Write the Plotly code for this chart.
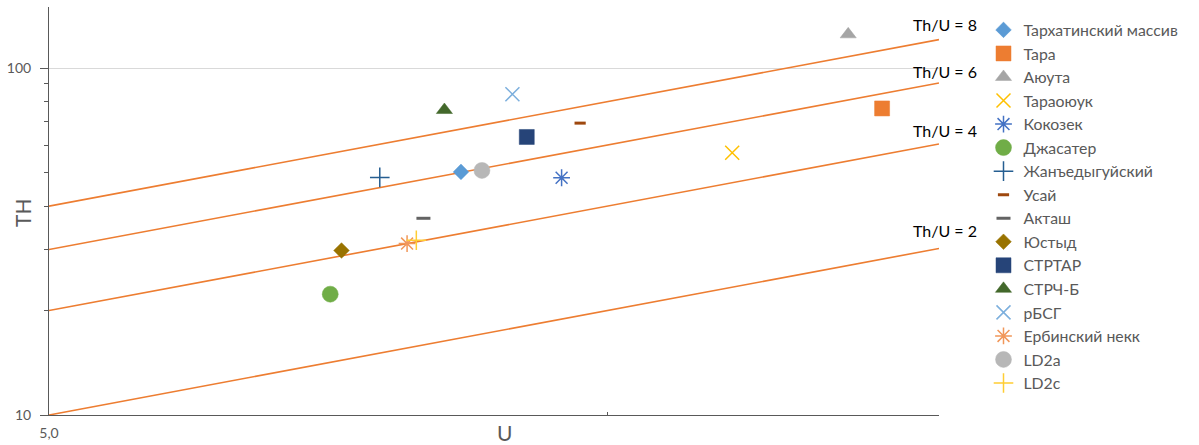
import plotly.graph_objects as go

# ---- data ----
series_names = ["Тархатинский массив", "Тара", "Аюута", "Тараоюук", "Кокозек", "Джасатер",
                "Жанъедыгуйский", "Усай", "Акташ", "Юстыд", "СТРТАР", "СТРЧ-Б", "рБСГ",
                "Ербинский некк", "LD2a", "LD2c"]
u_values = [8.34, 14.07, 13.49, 11.68, 9.45, 7.09, 7.54, 9.67, 7.96, 7.19, 9.05, 8.17, 8.89, 7.80, 8.56, 7.89]
th_values = [50.2, 76.5, 125.1, 57.0, 48.3, 22.3, 48.4, 69.4, 36.9, 29.8, 63.3, 75.7, 84.1, 31.2, 50.7, 31.9]
ratios = [8, 6, 4, 2]
ratio_u_span = [5.0, 15.1]
x_tick_vals = [5]
x_tick_text = ["5,0"]
y_tick_vals = [10, 100]
y_minor_vals = [20, 30, 40, 50, 60, 70, 80, 90]

# ---- styles ----
colors = ["#5B9BD5", "#ED7D31", "#A5A5A5", "#FFC000", "#4472C4", "#70AD47", "#255E91", "#9E480E",
          "#636363", "#997300", "#264478", "#43682B", "#7CAFDD", "#F1975A", "#B7B7B7", "#FFCD33"]
symbols = ["diamond", "square", "triangle-up", "x-thin-open", "asterisk-open", "circle",
           "cross-thin-open", "line-ew-open", "line-ew-open", "diamond", "square", "triangle-up",
           "x-thin-open", "asterisk-open", "circle", "cross-thin-open"]
sizes = [12, 15, 14, 14, 14, 16, 14, 8, 10, 12, 15, 14, 14, 14, 16, 14]
FONT = "Lato"
GRAY = "#595959"

fig = go.Figure()

for r in ratios:
    fig.add_trace(go.Scatter(
        x=ratio_u_span, y=[r * u for u in ratio_u_span], mode="lines",
        line=dict(color="#ED7D31", width=1.6), showlegend=False, hoverinfo="skip"))

for i, name in enumerate(series_names):
    sym = symbols[i]
    is_open = sym.endswith("-open")
    lw = 3 if sym.startswith("line-ew") else 1.5
    fig.add_trace(go.Scatter(
        x=[u_values[i]], y=[th_values[i]], mode="markers", name=name,
        marker=dict(symbol=sym, size=sizes[i], color=colors[i],
                    line=dict(color=colors[i], width=lw if is_open else 0.5)),
    ))

annotations = []
label_pos = {8: 0.956, 6: 0.841, 4: 0.697, 2: 0.452}
for r in ratios:
    annotations.append(dict(text=f"Th/U = {r}", xref="paper", yref="paper", x=1.007, y=label_pos[r],
                            showarrow=False, font=dict(family=FONT, size=16, color="#000000"),
                            xanchor="center", yanchor="middle"))
annotations.append(dict(text="U", xref="paper", yref="paper", x=(505 - 49) / 890, y=-0.042,
                        showarrow=False, font=dict(family=FONT, size=21, color=GRAY),
                        xanchor="center", yanchor="middle"))
annotations.append(dict(text="TH", xref="paper", yref="paper", x=(22 - 49) / 890, y=(415 - 213) / 408,
                        showarrow=False, textangle=-90, font=dict(family=FONT, size=21, color=GRAY),
                        xanchor="center", yanchor="middle"))

fig.update_layout(
    width=1199, height=445,
    margin=dict(l=49, r=260, t=7, b=30),
    paper_bgcolor="white", plot_bgcolor="white",
    font=dict(family=FONT, color=GRAY),
    annotations=annotations,
    legend=dict(x=1.05, y=0.985, xanchor="left", yanchor="top",
                font=dict(family=FONT, size=15.8, color=GRAY),
                bgcolor="rgba(0,0,0,0)", itemwidth=30),
    xaxis=dict(type="log", range=[0.69897, 1.17898], showgrid=False, zeroline=False,
               showline=True, linecolor=GRAY, linewidth=1, automargin=False,
               tickmode="array", tickvals=x_tick_vals, ticktext=x_tick_text, ticks="",
               ticklabelstandoff=5,
               tickfont=dict(family=FONT, size=14, color=GRAY),
               minor=dict(tickmode="array", tickvals=[10], ticks="inside", ticklen=3,
                          tickcolor=GRAY, showgrid=False)),
    yaxis=dict(type="log", range=[1, 2.17609], showgrid=True, gridcolor="#D9D9D9", zeroline=False,
               showline=True, linecolor=GRAY, linewidth=1, automargin=False,
               tickmode="array", tickvals=y_tick_vals, ticks="outside", ticklen=8, tickcolor=GRAY,
               ticklabelstandoff=6,
               tickfont=dict(family=FONT, size=14, color=GRAY),
               minor=dict(tickmode="array", tickvals=y_minor_vals, ticks="outside", ticklen=4,
                          tickcolor=GRAY, showgrid=False)),
)

fig.write_html("out.html", config={"displayModeBar": False},
               post_script="document.body.style.margin='0';")
